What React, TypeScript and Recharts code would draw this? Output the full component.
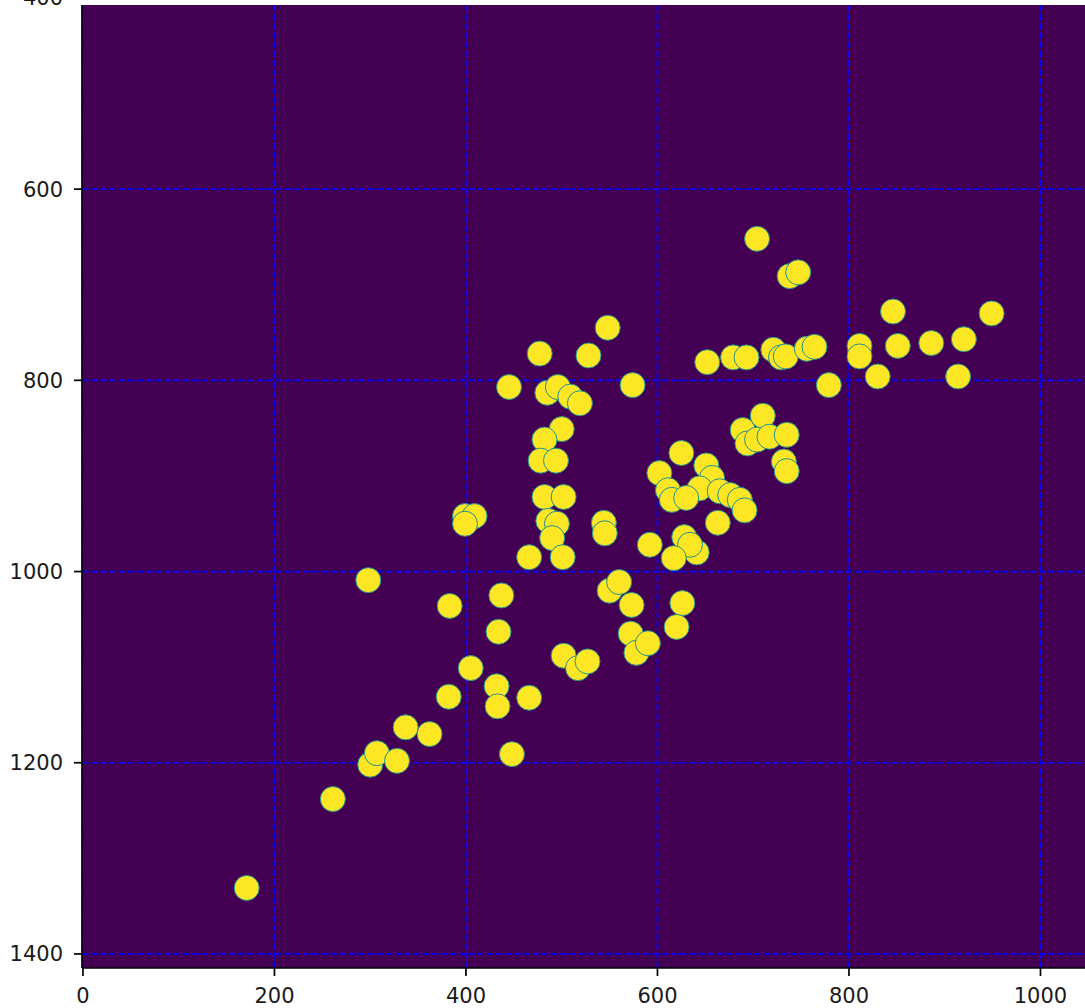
import { ScatterChart, Scatter, XAxis, YAxis, CartesianGrid, ReferenceLine } from "recharts";

// scatter values (x, y)
const xValues = [
  171, 261, 300, 307, 328, 337, 362, 382, 298, 383,
  399, 409, 399, 405, 437, 434, 432, 433, 466, 448,
  502, 517, 527, 477, 445, 485, 496, 509, 519, 500,
  482, 478, 494, 482, 502, 486, 495, 490, 501, 466,
  548, 528, 574, 544, 545, 550, 560, 573, 572, 578,
  590, 592, 602, 611, 615, 625, 628, 641, 634, 617,
  626, 620, 651, 657, 644, 665, 676, 686, 691, 663,
  630, 689, 694, 704, 710, 717, 735, 732, 735, 704,
  738, 747, 652, 679, 693, 721, 729, 734, 756, 764,
  779, 811, 811, 830, 846, 851, 886, 914, 920, 949,
];
const yValues = [
  1331, 1238, 1202, 1190, 1198, 1163, 1170, 1131, 1009, 1036,
  942, 942, 950, 1101, 1025, 1063, 1120, 1141, 1132, 1191,
  1088, 1101, 1094, 772, 807, 813, 807, 817, 824, 851,
  862, 884, 884, 922, 922, 947, 950, 965, 985, 985,
  745, 774, 805, 949, 960, 1020, 1011, 1035, 1065, 1085,
  1075, 972, 897, 915, 925, 876, 964, 980, 972, 986,
  1033, 1058, 889, 902, 913, 916, 920, 925, 936, 949,
  923, 852, 866, 862, 837, 859, 857, 885, 895, 652,
  691, 687, 781, 776, 776, 768, 776, 775, 767, 765,
  805, 764, 775, 796, 728, 764, 761, 796, 757, 730,
];

const xTicks = [0, 200, 400, 600, 800, 1000];
const yTicks = [400, 600, 800, 1000, 1200, 1400];

const points = xValues.map((x, i) => ({ x, y: yValues[i] }));

const tickStyle = { fontSize: 21, fill: "#1a1a1a", fontFamily: "DejaVu Sans" };
const gridLine = { stroke: "#0000ff", strokeWidth: 1.7, strokeDasharray: "6.4 2.8" };

const Dot = (props: any) => (
  <circle cx={props.cx} cy={props.cy} r={12.5} fill="#fde725" stroke="#21918c" strokeWidth={1} />
);

export default function App() {
  return (
    <div style={{ position: "absolute", top: 0, left: 0, width: 1085, height: 1008, overflow: "hidden", background: "#fff" }}>
      <ScatterChart width={1085} height={1008} margin={{ top: 5, right: 0, bottom: 0, left: 0 }}>
        <CartesianGrid fill="#440154" fillOpacity={1} horizontal={false} vertical={false} />
        <XAxis
          type="number"
          dataKey="x"
          domain={[-1, 1046.5]}
          ticks={xTicks}
          interval={0}
          allowDataOverflow
          height={40}
          tickSize={8}
          tickMargin={12}
          axisLine={{ stroke: "#000", strokeWidth: 1.7 }}
          tickLine={{ stroke: "#000", strokeWidth: 1.7 }}
          tick={tickStyle}
        />
        <YAxis
          type="number"
          dataKey="y"
          reversed
          domain={[407.4, 1414.7]}
          ticks={yTicks}
          interval={0}
          allowDataOverflow
          width={82}
          tickSize={8}
          tickMargin={11}
          axisLine={{ stroke: "#000", strokeWidth: 1.7 }}
          tickLine={{ stroke: "#000", strokeWidth: 1.7 }}
          tick={tickStyle}
        />
        <Scatter data={points} shape={Dot} isAnimationActive={false} />
        {xTicks.map((v) => (
          <ReferenceLine key={`gx-${v}`} x={v} ifOverflow="hidden" {...gridLine} />
        ))}
        {yTicks.map((v) => (
          <ReferenceLine key={`gy-${v}`} y={v} ifOverflow="hidden" {...gridLine} />
        ))}
      </ScatterChart>
    </div>
  );
}
